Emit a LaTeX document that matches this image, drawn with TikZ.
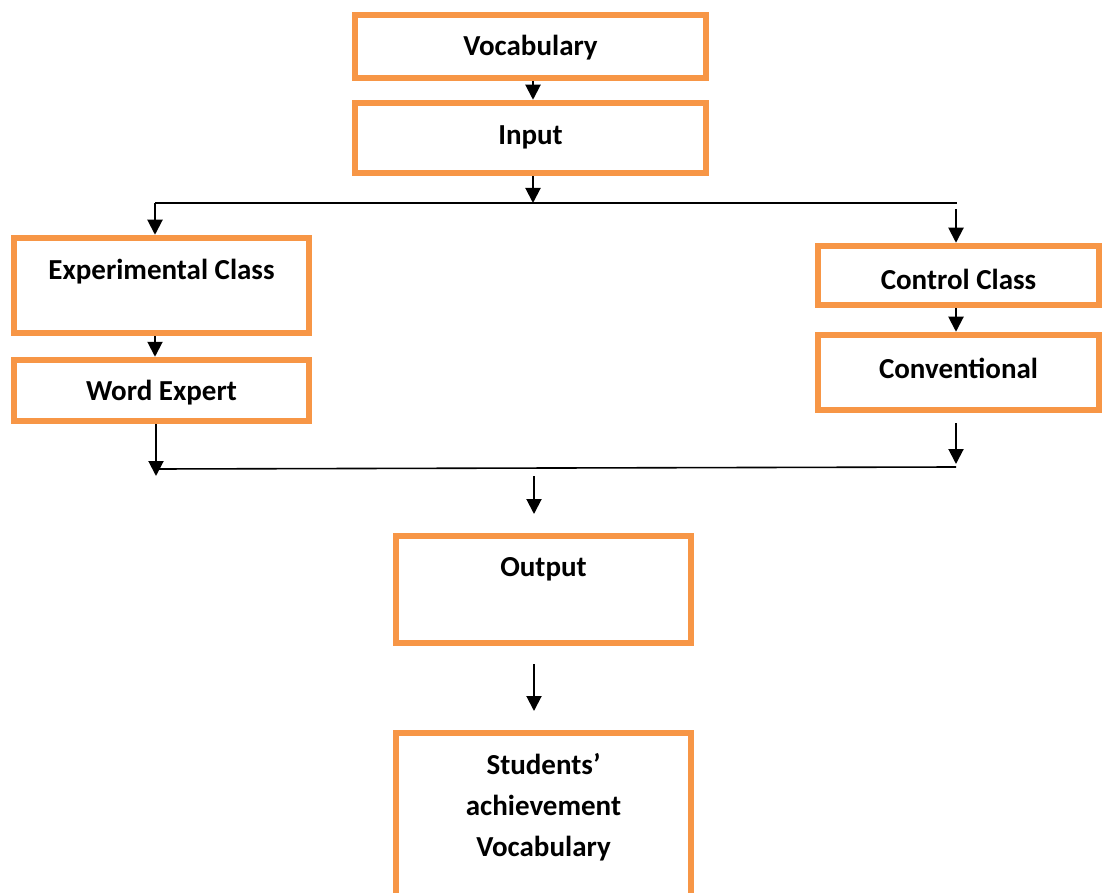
\documentclass[tikz,border=0pt]{standalone}
\usepackage{fontspec}
\setmainfont{Carlito}
\usetikzlibrary{arrows.meta}
\definecolor{boxorange}{HTML}{F79646}
\begin{document}
\begin{tikzpicture}[x=1pt,y=-1pt,
  box/.style={draw=boxorange,line width=6.5pt,rectangle,inner sep=0pt,fill=white},
  lbl/.style={font=\fontsize{29}{41}\selectfont\bfseries,align=center,inner sep=0pt},
  arr/.style={draw=black,line width=2pt,-{Triangle[length=15pt,width=15pt]}},
  ln/.style={draw=black,line width=1.6pt}]
\clip (0,0) rectangle (1103,893);
\fill[white] (0,0) rectangle (1103,893);
% boxes
\node[box,minimum width=351pt,minimum height=63pt] (voc) at (530.5,46.5) {};
\node[lbl] (voct) at (530.5,48) {Vocabulary};
\node[box,minimum width=351pt,minimum height=70pt] (inp) at (530.5,138) {};
\node[lbl] (inpt) at (530.5,137) {Input};
\node[box,minimum width=295pt,minimum height=95pt] (exp) at (161.5,285.5) {};
\node[lbl] (expt) at (161.5,272) {Experimental Class};
\node[box,minimum width=295pt,minimum height=61pt] (we) at (161.5,390.5) {};
\node[lbl] (wet) at (161.5,393) {Word Expert};
\node[box,minimum width=281pt,minimum height=59pt] (ctl) at (958.5,275.5) {};
\node[lbl] (ctlt) at (958.5,279) {Control Class};
\node[box,minimum width=281pt,minimum height=75pt] (conv) at (958.5,372.5) {};
\node[lbl] (convt) at (958.5,368) {Conventional};
\node[box,minimum width=295pt,minimum height=107pt] (out) at (543.5,589.5) {};
\node[lbl] (outt) at (543.5,569) {Output};
\node[box,minimum width=295pt,minimum height=227pt] (stu) at (543.5,846.5) {};
\node[lbl] (stut) at (543.5,807) {Students’\\achievement\\Vocabulary};
% coordinates
\coordinate (tl) at (155,203);
\coordinate (tr) at (957,203);
\coordinate (tm) at (533,203);
\coordinate (r1) at (956,209);
\coordinate (bl) at (156,469);
\coordinate (bl2) at (156,476);
\coordinate (br) at (956,467);
\coordinate (r2) at (956,423);
\coordinate (r3) at (956,464);
\coordinate (m1) at (534,476);
\coordinate (m2) at (534,514);
\coordinate (m3) at (534,664);
\coordinate (m4) at (534,711);
% connectors
\draw[arr] (voc.south -| tm) -- (inp.north -| tm);
\draw[arr] (inp.south -| tm) -- (tm);
\draw[ln] (tl) -- (tr);
\draw[arr] (tl) -- (exp.north -| tl);
\draw[arr] (r1) -- (ctl.north -| r1);
\draw[arr] (exp.south -| tl) -- (we.north -| tl);
\draw[arr] (ctl.south -| r1) -- (conv.north -| r1);
\draw[arr] (we.south -| bl) -- (bl2);
\draw[ln] (bl) -- (br);
\draw[arr] (r2) -- (r3);
\draw[arr] (m1) -- (m2);
\draw[arr] (m3) -- (m4);
\end{tikzpicture}
\end{document}
